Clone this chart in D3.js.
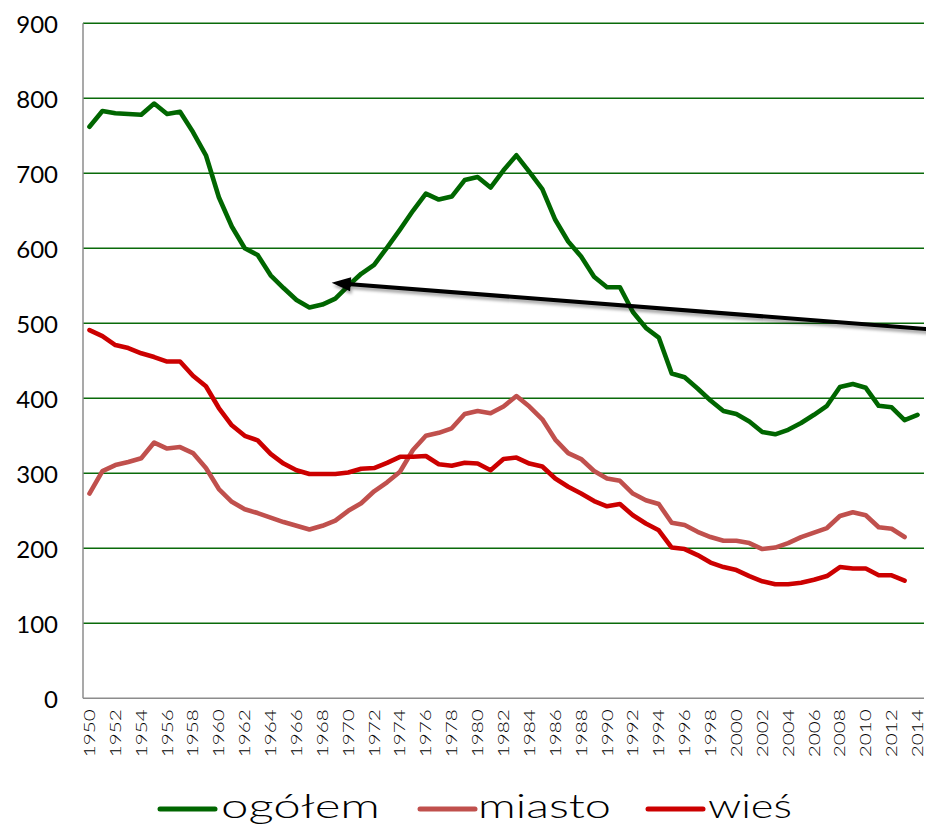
<!DOCTYPE html>
<html>
<head>
<meta charset="utf-8">
<script src="https://cdn.jsdelivr.net/npm/d3@7"></script>
<style>
  html, body { margin: 0; padding: 0; background: #fff; }
  svg { display: block; }
  text { font-family: Lato, "Open Sans", sans-serif; font-weight: 300; fill: #000; }
  text.ytick { font-weight: 400; }
</style>
</head>
<body>
<svg id="chart" width="926" height="832"></svg>
<script>
const years = d3.range(1950, 2015);
const yTicks = [0, 100, 200, 300, 400, 500, 600, 700, 800, 900];
const xTickYears = d3.range(1950, 2015, 2);

const ogolem = [762, 783, 780, 779, 778, 793, 779, 782, 755, 724,
  668, 629, 600, 591, 564, 547, 531, 521, 525, 533,
  550, 566, 578, 601, 625, 650, 673, 665, 669, 691,
  695, 681, 704, 724, 702, 679, 638, 609, 589, 562,
  548, 548, 515, 494, 481, 433, 428, 413, 397, 383,
  379, 369, 355, 352, 358, 367, 378, 390, 415, 419,
  414, 390, 388, 371, 378];
const miasto = [273, 303, 311, 315, 320, 341, 333, 335, 327, 307,
  279, 262, 252, 247, 241, 235, 230, 225, 230, 237,
  250, 260, 276, 288, 302, 331, 350, 354, 360, 379,
  383, 380, 389, 403, 389, 372, 345, 327, 319, 303,
  293, 290, 273, 264, 259, 234, 231, 222, 215, 210,
  210, 207, 199, 201, 207, 215, 221, 227, 243, 248,
  244, 228, 226, 215];
const wies = [491, 483, 471, 467, 460, 455, 449, 449, 430, 416,
  387, 364, 350, 344, 326, 313, 304, 299, 299, 299,
  301, 306, 307, 314, 322, 322, 323, 312, 310, 314,
  313, 304, 319, 321, 313, 309, 293, 282, 273, 263,
  256, 259, 244, 233, 224, 201, 199, 191, 181, 175,
  171, 163, 156, 152, 152, 154, 158, 163, 175, 173,
  173, 164, 164, 157];

const seriesNames = ["ogółem", "miasto", "wieś"];
const seriesColors = ["#006600", "#C0504D", "#CC0000"];
const seriesValues = [ogolem, miasto, wies];

// arrow annotation in data units: [year, value]
const arrowTail = [2015.7, 491];
const arrowTip = [1968.72, 554];

(function () {
const svg = d3.select("#chart");
const pLeft = 83, pRight = 924, pTop = 23.3, pBottom = 698.3;

const x = d3.scalePoint().domain(years).range([pLeft, pRight]).padding(0.5);
const step = x.step();
const xc = v => x(years[0]) + (v - years[0]) * step;
const y = d3.scaleLinear().domain([0, 900]).range([pBottom, pTop]);

// gridlines
svg.append("g").selectAll("line")
  .data(yTicks.filter(d => d > 0))
  .join("line")
  .attr("x1", pLeft).attr("x2", pRight)
  .attr("y1", d => y(d)).attr("y2", d => y(d))
  .attr("stroke", "#0a6a0a").attr("stroke-width", 1.6);

// axes lines
svg.append("line").attr("x1", pLeft).attr("x2", pLeft).attr("y1", pTop).attr("y2", pBottom)
  .attr("stroke", "#8c8c8c").attr("stroke-width", 1.5);
svg.append("line").attr("x1", pLeft).attr("x2", pRight).attr("y1", pBottom).attr("y2", pBottom)
  .attr("stroke", "#8c8c8c").attr("stroke-width", 1.5);

// y tick labels
svg.append("g").selectAll("text")
  .data(yTicks)
  .join("text")
  .attr("class", "ytick")
  .attr("x", 58).attr("y", d => y(d))
  .attr("text-anchor", "end")
  .attr("dominant-baseline", "central")
  .style("font-size", "24px")
  .text(d => d);

// x tick labels
svg.append("g").selectAll("text")
  .data(xTickYears)
  .join("text")
  .attr("transform", d => `translate(${x(d) + 5.5},${pBottom + 11}) rotate(-90)`)
  .attr("text-anchor", "end")
  .attr("textLength", 48)
  .attr("lengthAdjust", "spacingAndGlyphs")
  .style("font-size", "16px")
  .text(d => d);

// series lines
const line = d3.line()
  .x((d, i) => x(years[i]))
  .y(d => y(d));

svg.append("g").selectAll("path")
  .data(seriesValues)
  .join("path")
  .attr("d", d => line(d))
  .attr("fill", "none")
  .attr("stroke", (d, i) => seriesColors[i])
  .attr("stroke-width", 4.6)
  .attr("stroke-linejoin", "round")
  .attr("stroke-linecap", "round");

// arrow with shadow
const defs = svg.append("defs");
const f = defs.append("filter").attr("id", "shadow").attr("x", "-10%").attr("y", "-50%").attr("width", "120%").attr("height", "300%");
f.append("feDropShadow").attr("dx", 1.5).attr("dy", 3).attr("stdDeviation", 1.8)
  .attr("flood-color", "#000").attr("flood-opacity", 0.35);

const tx = xc(arrowTip[0]), ty = y(arrowTip[1]);
const sx = xc(arrowTail[0]), sy = y(arrowTail[1]);
const ang = Math.atan2(ty - sy, tx - sx);
const headLen = 19, headW = 7;
const bx = tx - headLen * Math.cos(ang), by = ty - headLen * Math.sin(ang);
const px = -Math.sin(ang), py = Math.cos(ang);
const ag = svg.append("g").attr("filter", "url(#shadow)");
ag.append("line")
  .attr("x1", sx).attr("y1", sy).attr("x2", bx + 3 * Math.cos(ang)).attr("y2", by + 3 * Math.sin(ang))
  .attr("stroke", "#000").attr("stroke-width", 4);
ag.append("path")
  .attr("d", `M${tx},${ty}L${bx + px * headW},${by + py * headW}L${bx - px * headW},${by - py * headW}Z`)
  .attr("fill", "#000");

// legend
const legendY = 809;
const legendItems = [
  { lx: 160, tx: 221, tl: 159 },
  { lx: 420, tx: 478, tl: 133 },
  { lx: 648, tx: 708, tl: 84 }
];
const lg = svg.append("g");
legendItems.forEach((it, i) => {
  lg.append("line")
    .attr("x1", it.lx).attr("x2", it.lx + 55)
    .attr("y1", legendY).attr("y2", legendY)
    .attr("stroke", seriesColors[i]).attr("stroke-width", 5)
    .attr("stroke-linecap", "round");
  lg.append("text")
    .attr("x", it.tx).attr("y", 818)
    .attr("textLength", it.tl)
    .attr("lengthAdjust", "spacingAndGlyphs")
    .style("font-size", "34px")
    .text(seriesNames[i]);
});
})();
</script>
</body>
</html>
